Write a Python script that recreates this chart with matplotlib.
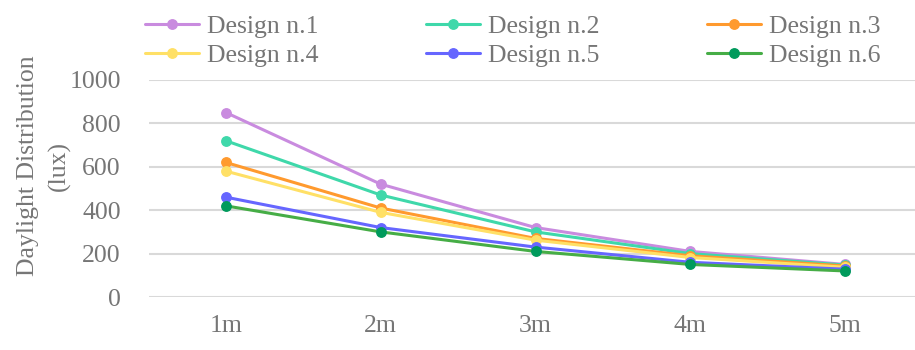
import matplotlib
matplotlib.use("Agg")
import matplotlib.pyplot as plt

# Daylight distribution (lux) at increasing distances from the window
distances = ["1m", "2m", "3m", "4m", "5m"]
series_names = ["Design n.1", "Design n.2", "Design n.3",
                "Design n.4", "Design n.5", "Design n.6"]
design_1 = [850, 520, 320, 210, 150]
design_2 = [720, 470, 300, 200, 147]
design_3 = [620, 410, 270, 190, 143]
design_4 = [580, 390, 262, 182, 137]
design_5 = [460, 320, 230, 160, 128]
design_6 = [420, 300, 210, 150, 120]
y_ticks = [0, 200, 400, 600, 800, 1000]

series_values = [design_1, design_2, design_3, design_4, design_5, design_6]
line_colors = ["#C98BDF", "#3FD8AA", "#FF9A2E", "#FFE066", "#6666FF", "#46AD46"]
marker_colors = ["#C98BDF", "#3FD8AA", "#FF9A2E", "#FFE066", "#6666FF", "#009A5C"]

text_color = "#767676"
fs = 18.5
plt.rcParams["font.family"] = ["Liberation Serif", "DejaVu Serif"]
plt.rcParams["font.size"] = fs

W, H = 915, 350
fig = plt.figure(figsize=(W / 100, H / 100), dpi=100)

# plot area in pixels: x 148.5 .. 922.5, y 80 .. 297 (from top)
left, right, top, bottom = 148.5, 922.5, 80, 297
ax = fig.add_axes([left / W, 1 - bottom / H, (right - left) / W, (bottom - top) / H])

x = list(range(1, len(distances) + 1))
handles = []
for name, vals, lc, mc in zip(series_names, series_values, line_colors, marker_colors):
    h, = ax.plot(x, vals, color=lc, linewidth=2.2, marker="o", markersize=6.8,
                 markerfacecolor=mc, markeredgecolor=mc, label=name, zorder=3,
                 solid_capstyle="round")
    handles.append(h)

ax.set_xlim(0.5, len(distances) + 0.5)
ax.set_ylim(0, 1000)
ax.set_xticks(x)
ax.set_xticklabels(distances)
ax.set_yticks(y_ticks)
ax.grid(axis="y", color="#D9D9D9", linewidth=1.5, zorder=0)
ax.set_axisbelow(True)
for s in ax.spines.values():
    s.set_visible(False)
ax.tick_params(axis="both", length=0, colors=text_color, labelsize=fs)
ax.tick_params(axis="y", pad=20)
ax.tick_params(axis="x", pad=13)

fig.text(44 / W, 1 - 166 / H, "Daylight Distribution\n(lux)", rotation=90,
         ha="center", va="center", color=text_color, fontsize=fs,
         linespacing=1.5)

# legend laid out row by row: reorder for column-major filling
order = [0, 3, 1, 4, 2, 5]
leg = fig.legend([handles[i] for i in order], [series_names[i] for i in order],
                 ncol=3, loc="upper left", bbox_to_anchor=(145 / W, 1 - 15 / H),
                 frameon=False, handlelength=2.1, handletextpad=0.3,
                 columnspacing=4.2, labelspacing=0.25, borderpad=0,
                 borderaxespad=0, fontsize=fs)
for t in leg.get_texts():
    t.set_color(text_color)

fig.savefig("out.png", dpi=100)
